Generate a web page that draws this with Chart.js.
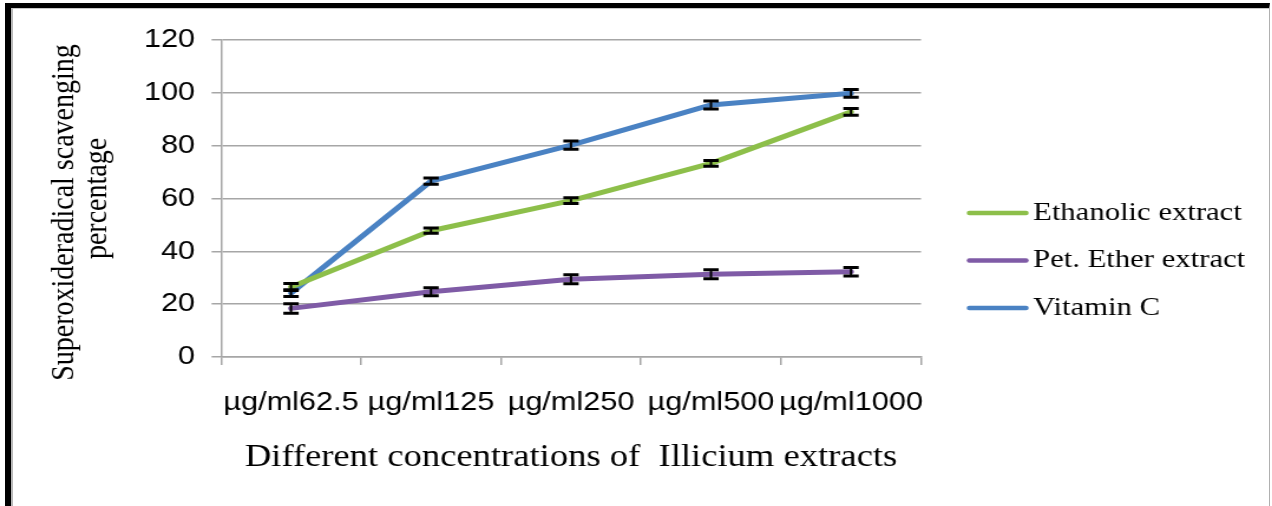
<!DOCTYPE html>
<html>
<head>
<meta charset="utf-8">
<script src="https://cdn.jsdelivr.net/npm/chart.js@4.4.1/dist/chart.umd.min.js"></script>
<style>
	body { margin: 0; background: #fff; width: 1272px; height: 506px; overflow: hidden; position: relative; }
	#frame { position: absolute; left: 5px; top: 3px; width: 1258px; height: 510px; border-top: 5px solid #000; border-left: 6px solid #000; border-right: 1px solid #b0b0b0; }
	#inner { position: absolute; left: 0; top: 0; right: 0; bottom: 0; border-top: 1px solid #c8c8c8; border-left: 2px solid #b8b8b8; }
	#wrap { position: absolute; left: 0; top: 0; width: 1078px; height: 506px; transform: scaleX(1.18); transform-origin: 0 0; }
</style>
</head>
<body>
<div id="frame"><div id="inner"></div></div>
<div id="wrap"><canvas id="scavenging" width="1078" height="506"></canvas></div>
<script>
	var concentrations = ["\u00b5g/ml62.5", "\u00b5g/ml125", "\u00b5g/ml250", "\u00b5g/ml500", "\u00b5g/ml1000"];
	var seriesNames = ["Ethanolic extract", "Pet. Ether extract", "Vitamin C"];
	var ethanolic = [26.5, 47.8, 59.2, 73.3, 92.8];
	var petEther = [18.4, 24.7, 29.4, 31.3, 32.3];
	var vitaminC = [24.2, 66.6, 80.2, 95.4, 99.8];
	var ethanolicErr = [1.3, 1.0, 1.1, 1.1, 1.3];
	var petEtherErr = [1.8, 1.5, 1.7, 1.7, 1.6];
	var vitaminCErr = [1.3, 1.2, 1.6, 1.5, 1.5];
	var yTicks = [0, 20, 40, 60, 80, 100, 120];
	var seriesColors = ["#8dbf4a", "#7f5ba6", "#4a82c3"];

	var gridGray = "#a6a6a6";
	var serif = "'Liberation Serif', 'Times New Roman', serif";
	var sans = "'Liberation Sans', Arial, sans-serif";

	// black error bars drawn on top of the lines
	var errorBars =
	{
		id: "errorBars",
		afterDatasetsDraw: function(chart)
		{
			var ctx = chart.ctx;
			var yScale = chart.scales.y;
			ctx.save();
			ctx.strokeStyle = "#000";
			chart.data.datasets.forEach(function(ds, di)
			{
				var meta = chart.getDatasetMeta(di);
				meta.data.forEach(function(pt, i)
				{
					var v = ds.data[i];
					var e = ds.errors[i];
					var top = yScale.getPixelForValue(v + e);
					var bottom = yScale.getPixelForValue(v - e);
					ctx.lineWidth = 2;
					ctx.beginPath();
					ctx.moveTo(pt.x, top);
					ctx.lineTo(pt.x, bottom);
					ctx.stroke();
					ctx.lineWidth = 3;
					ctx.beginPath();
					ctx.moveTo(pt.x - 6.5, top);
					ctx.lineTo(pt.x + 6.5, top);
					ctx.moveTo(pt.x - 6.5, bottom);
					ctx.lineTo(pt.x + 6.5, bottom);
					ctx.stroke();
				});
			});
			ctx.restore();
		}
	};

	// legend on the right: short coloured line then the series name
	var sideLegend =
	{
		id: "sideLegend",
		afterDraw: function(chart)
		{
			var ctx = chart.ctx;
			var x0 = chart.chartArea.right + 39;
			ctx.save();
			ctx.font = "26px " + serif;
			ctx.textBaseline = "middle";
			ctx.textAlign = "left";
			chart.data.datasets.forEach(function(ds, i)
			{
				var y = 213 + i * 47.5;
				ctx.strokeStyle = ds.borderColor;
				ctx.lineWidth = 4.5;
				ctx.lineCap = "round";
				ctx.beginPath();
				ctx.moveTo(x0 + 2, y);
				ctx.lineTo(x0 + 50, y);
				ctx.stroke();
				ctx.fillStyle = "#000";
				ctx.fillText(ds.label, x0 + 56, y);
			});
			ctx.restore();
		}
	};

	function makeSet(i, values, errs)
	{
		return {
			label: seriesNames[i],
			data: values,
			errors: errs,
			borderColor: seriesColors[i],
			backgroundColor: seriesColors[i],
			borderWidth: 5,
			borderCapStyle: "round",
			borderJoinStyle: "round",
			pointRadius: 0,
			tension: 0
		};
	}

	window.onload = () =>
	{
		var ctx = document.getElementById("scavenging").getContext("2d");
		var chartConfig =
		{
			type: "line",
			data:
			{
				labels: concentrations,
				datasets: [
					makeSet(0, ethanolic, ethanolicErr),
					makeSet(1, petEther, petEtherErr),
					makeSet(2, vitaminC, vitaminCErr)
				]
			},
			options:
			{
				responsive: false,
				animation: false,
				layout: { padding: { left: 30, top: 40, right: 297.5, bottom: 26 } },
				plugins:
				{
					tooltip: { enabled: false },
					legend: { display: false }
				},
				scales:
				{
					x:
					{
						offset: true,
						grid: { offset: true, drawOnChartArea: false, drawTicks: true, tickLength: 8, color: gridGray, lineWidth: 1.5 },
						border: { color: gridGray, width: 1.5 },
						ticks:
						{
							color: "#000",
							padding: 22,
							autoSkip: false,
							maxRotation: 0,
							minRotation: 0,
							font: { family: sans, size: 26 }
						},
						title:
						{
							display: true,
							text: "Different concentrations of  Illicium extracts",
							color: "#000",
							padding: { top: 0, bottom: 4 },
							font: { family: serif, size: 31 }
						},
						afterFit: function(scale) { scale.height = 123; }
					},
					y:
					{
						min: yTicks[0],
						max: yTicks[yTicks.length - 1],
						afterBuildTicks: function(scale)
						{
							scale.ticks = yTicks.map(function(v) { return { value: v }; });
						},
						grid: { color: gridGray, lineWidth: 1.5, tickLength: 8 },
						border: { color: gridGray, width: 1.5 },
						ticks:
						{
							color: "#000",
							padding: 14,
							font: { family: sans, size: 26 }
						},
						title:
						{
							display: true,
							text: ["Superoxideradical scavenging    ", "percentage"],
							color: "#000",
							padding: { top: 11, bottom: 0 },
							font: { family: serif, size: 28, lineHeight: 1 }
						},
						afterFit: function(scale) { scale.width = 157.3; }
					}
				}
			},
			plugins: [errorBars, sideLegend]
		};
		var chart = new Chart(ctx, chartConfig);
	};
</script>
</body>
</html>
